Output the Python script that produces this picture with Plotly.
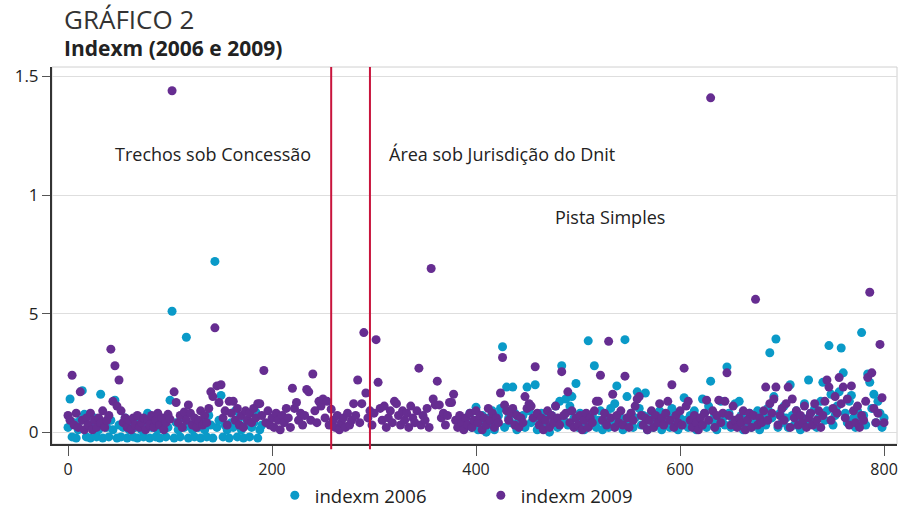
import plotly.graph_objects as go

# indexm 2009 values, one observation every 2 units from 0 to 800
indexm_2009 = [
    .07, .05, .24, .03, .08, .02, .17, .05, .01, .06,
    .03, .08, .01, .05, .02, .06, .04, .09, .02, .05,
    .07, .35, .13, .28, .11, .22, .09, .04, .06, .02,
    .05, .01, .06, .03, .07, .02, .04, .06, .01, .05,
    .03, .07, .02, .05, .08, .03, .06, .01, .04, .075,
    .055, 1.44, .17, .125, .04, .07, .02, .085, .05, .115,
    .08, .03, .06, .02, .05, .09, .03, .07, .04, .10,
    .17, .15, .44, .195, .125, .20, .06, .09, .03, .13,
    .08, .13, .05, .10, .03, .07, .02, .09, .05, .08,
    .04, .10, .06, .12, .12, .07, .26, .04, .09, .03,
    .06, .02, .08, .05, .01, .07, .04, .10, .06, .02,
    .185, .10, .125, .05, .08, .03, .07, .18, .17, .05,
    .245, .09, .04, .13, .11, .14, .06, .13, .03, .097,
    .05, .02, .07, .01, .04, .06, .02, .08, .03, .05,
    .12, .07, .22, .04, .12, .42, .165, .06, .09, .03,
    .08, .39, .21, .10, .05, .11, .02, .06, .09, .04,
    .13, .12, .07, .03, .09, .05, .08, .02, .11, .06,
    .04, .09, .27, .03, .07, .05, .10, .02, .69, .14,
    .115, .215, .115, .06, .08, .03, .07, .125, .125, .16,
    .05, .02, .07, .04, .01, .06, .03, .08, .02, .05,
    .09, .04, .07, .01, .06, .03, .10, .05, .08, .02,
    .06, .04, .165, .315, .115, .09, .05, .08, .10, .03,
    .07, .02, .06, .04, .15, .10, .12, .11, .06, .276,
    .08, .03, .06, .01, .05, .09, .02, .07, .04, .11,
    .06, .03, .255, .07, .08, .17, .04, .09, .02, .06,
    .03, .07, .01, .05, .08, .02, .06, .04, .09, .13,
    .13, .24, .05, .08, .03, .383, .06, .16, .02, .07,
    .04, .09, .03, .236, .06, .02, .08, .05, .11, .14,
    .15, .07, .03, .06, .01, .05, .09, .02, .07, .04,
    .12, .06, .03, .08, .13, .05, .20, .02, .07, .04,
    .09, .03, .27, .11, .13, .05, .02, .07, .04, .01,
    .06, .03, .08, .135, .05, 1.41, .09, .02, .07, .135,
    .04, .08, .13, .25, .07, .03, .11, .05, .02, .06,
    .04, .09, .01, .05, .08, .02, .07, .56, .03, .06,
    .04, .09, .19, .05, .12, .08, .14, .19, .03, .07,
    .10, .05, .12, .19, .02, .14, .06, .09, .03, .07,
    .04, .11, .02, .06, .08, .03, .12, .05, .09, .02,
    .07, .13, .22, .19, .05, .10, .15, .08, .23, .12,
    .19, .06, .14, .03, .195, .09, .04, .11, .02, .07,
    .05, .13, .23, .59, .25, .10, .04, .08, .37, .145,
    .04,
]

# indexm 2006 values: first stretch (0-190) and second stretch (394-800)
indexm_2006_a = [
    .02, .14, -.02, .04, -.025, .01, .05, .175, .075, -.02,
    .03, -.025, .02, .06, -.02, .01, .16, -.025, .04, .02,
    -.02, .05, .01, .135, -.025, .03, -.02, .02, .06, -.025,
    .01, .04, -.02, .02, -.025, .05, .01, -.02, .03, .08,
    -.025, .02, .04, -.02, .01, -.025, .03, .05, -.02, .02,
    .135, .51, -.025, .04, .01, -.02, .06, .02, .40, -.025,
    .03, .01, -.02, .05, .02, -.025, .04, .01, -.02, .07,
    .03, -.025, .72, .02, .05, .155, -.02, .03, .01, -.025,
    .04, .02, .09, -.02, .06, .01, -.025, .03, .05, -.02,
    .02, .04, .085, -.025, .01, .03,
]
indexm_2006_b = [
    .08, .02, .05, .105, .01, .04, .07, .02, .00, .06,
    .03, .09, .01, .05, .07, .10, .36, .02, .19, .06,
    .04, .19, .08, .01, .05, .03, .07, .02, .19, .09,
    .04, .06, .20, .01, .05, .08, .02, .06, .03, .00,
    .07, .04, .11, .02, .13, .28, .05, .14, .03, .11,
    .15, .06, .205, .02, .08, .04, .01, .06, .385, .03,
    .07, .28, .02, .05, .09, .01, .04, .07, .02, .10,
    .05, .12, .195, .03, .06, .01, .39, .15, .04, .08,
    .02, .06, .17, .10, .03, .07, .165, .01, .05, .08,
    .02, .06, .04, .09, .01, .05, .03, .07, .02, .10,
    .04, .08, .01, .06, .03, .145, .05, .02, .07, .04,
    .09, .01, .06, .03, .14, .08, .02, .11, .215, .05,
    .07, .01, .04, .13, .06, .03, .275, .08, .02, .05,
    .12, .04, .13, .07, .01, .05, .03, .08, .02, .06,
    .04, .09, .01, .05, .07, .03, .10, .335, .06, .15,
    .393, .02, .08, .04, .11, .06, .02, .20, .07, .03,
    .09, .05, .01, .06, .12, .03, .22, .08, .04, .10,
    .02, .06, .13, .21, .05, .09, .365, .16, .03, .07,
    .11, .17, .355, .25, .08, .04, .13, .155, .06, .02,
    .09, .05, .42, .07, .03, .245, .21, .10, .16, .04,
    .13, .08, .02, .06,
]

obs_2009 = list(range(0, 801, 2))
obs_2006 = list(range(0, 191, 2)) + list(range(394, 801, 2))
indexm_2006 = indexm_2006_a + indexm_2006_b
assert len(obs_2009) == len(indexm_2009)
assert len(obs_2006) == len(indexm_2006)

x_ticks = [0, 200, 400, 600, 800]
y_ticks = [0, 0.5, 1, 1.5]
y_tick_labels = ["0", "5", "1", "1.5"]
section_limits = [258, 296]

FONT = "Open Sans"
C2006 = "#0a9ac8"
C2009 = "#662d91"

fig = go.Figure()
fig.add_trace(go.Scatter(
    x=obs_2006, y=indexm_2006, mode="markers", name="indexm 2006",
    marker=dict(color=C2006, size=9, line=dict(width=0)),
))
fig.add_trace(go.Scatter(
    x=obs_2009, y=indexm_2009, mode="markers", name="indexm 2009",
    marker=dict(color=C2009, size=9, line=dict(width=0)),
))

shapes = [dict(type="rect", xref="paper", yref="paper", x0=0, x1=1, y0=0, y1=1,
               line=dict(color="#d0d0d0", width=1), layer="below")]
for xv in section_limits:
    shapes.append(dict(type="line", xref="x", yref="paper", x0=xv, x1=xv,
                       y0=-0.014, y1=1, line=dict(color="#c8143c", width=2)))

annotations = [
    dict(text="GRÁFICO 2", xref="paper", yref="paper", x=0.012, y=1.128,
         xanchor="left", yanchor="middle", showarrow=False,
         font=dict(family=FONT, size=26, color="#333333")),
    dict(text="<b>Indexm (2006 e 2009)</b>", xref="paper", yref="paper", x=0.012, y=1.05,
         xanchor="left", yanchor="middle", showarrow=False,
         font=dict(family=FONT, size=21, color="#222222")),
    dict(text="Trechos sob Concessão", x=142, y=1.175, showarrow=False,
         font=dict(family=FONT, size=18, color="#222222")),
    dict(text="Área sob Jurisdição do Dnit", x=425, y=1.175, showarrow=False,
         font=dict(family=FONT, size=18, color="#222222")),
    dict(text="Pista Simples", x=531, y=0.908, showarrow=False,
         font=dict(family=FONT, size=18, color="#222222")),
]

fig.update_layout(
    width=904, height=509,
    margin=dict(l=52, r=7, t=67, b=65),
    paper_bgcolor="white", plot_bgcolor="white",
    font=dict(family=FONT, size=16, color="#222222"),
    shapes=shapes, annotations=annotations,
    showlegend=True,
    legend=dict(orientation="h", xref="container", yref="container",
                x=0.304, xanchor="left", y=0.026, yanchor="middle",
                font=dict(family=FONT, size=18.5, color="#222222"),
                entrywidth=161, entrywidthmode="pixels", bgcolor="rgba(0,0,0,0)"),
)
fig.update_xaxes(
    range=[-15.7, 812.7], tickvals=x_ticks, showgrid=False, zeroline=False,
    showline=True, linecolor="#333333", linewidth=2, automargin=False,
    ticks="outside", ticklen=10, tickcolor="#555555", tickwidth=1,
    tickfont=dict(family=FONT, size=16, color="#222222"),
)
fig.update_yaxes(
    range=[-0.05, 1.54], tickvals=y_ticks, ticktext=y_tick_labels,
    showgrid=True, gridcolor="#dedede", gridwidth=1, zeroline=False,
    showline=True, linecolor="#333333", linewidth=2, automargin=False,
    ticks="outside", ticklen=8, tickcolor="#555555", tickwidth=1,
    tickfont=dict(family=FONT, size=17, color="#222222"),
)

# remove the default 8px page margin so the figure sits at the window's corner
fig.write_html("out.html", config={"displayModeBar": False},
               post_script="document.body.style.margin='0';")
